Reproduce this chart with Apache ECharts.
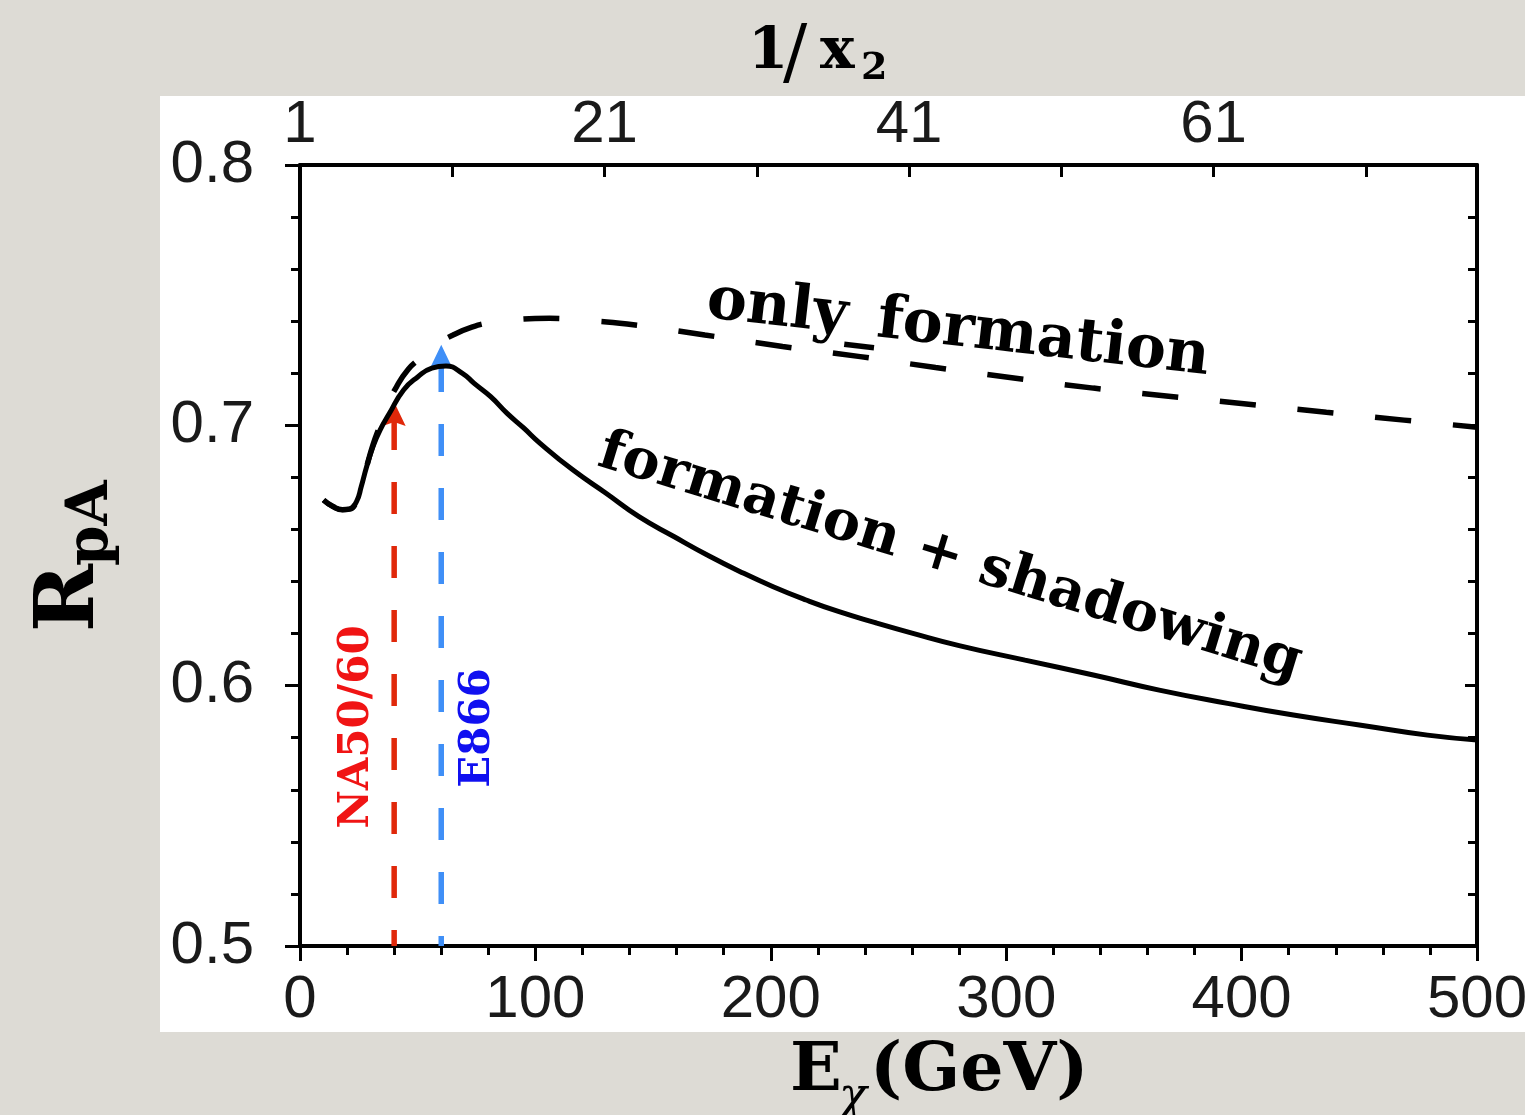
<!DOCTYPE html>
<html>
<head>
<meta charset="utf-8">
<script src="https://cdn.jsdelivr.net/npm/echarts@6/dist/echarts.min.js"></script>
<style>
  html, body { margin: 0; padding: 0; background: #dddbd5; }
  #chart { width: 1525px; height: 1115px; }
</style>
</head>
<body>
<div id="chart"></div>
<script>
// Nuclear modification factor R_pA versus energy E_chi (GeV)

// formation + shadowing (solid curve)
const energyShadowing = [10, 14, 18, 21, 24, 26, 28.3, 31, 34, 38, 44, 50, 56, 62, 69, 74, 81, 88, 95, 102,
  116, 130, 144, 159, 173, 187, 201, 215, 229, 244, 260, 280, 308, 337, 365, 394, 422, 450, 479, 500];
const rpaShadowing = [0.6713, 0.6688, 0.6676, 0.6678, 0.6707, 0.6764, 0.6841, 0.6918, 0.6982, 0.7046, 0.7136,
  0.7186, 0.7220, 0.7228, 0.7200, 0.7161, 0.7110, 0.7046, 0.6990, 0.6931, 0.6828, 0.6739, 0.6649, 0.6572,
  0.6502, 0.6438, 0.6380, 0.6329, 0.6284, 0.6243, 0.6202, 0.6154, 0.6098, 0.6041, 0.5983, 0.5932, 0.5887,
  0.5849, 0.5810, 0.5791];

// only formation (dashed curve)
const energyFormation = [10, 14, 18, 21, 24, 26, 28.3, 31, 34, 37, 41, 46, 51, 58, 65, 73, 81, 92, 106, 120,
  139, 172, 205, 238, 270, 304, 337, 370, 403, 436, 469, 500];
const rpaFormation = [0.6713, 0.6688, 0.6676, 0.6678, 0.6707, 0.6764, 0.6841, 0.6925, 0.7000, 0.7075, 0.7148,
  0.7215, 0.7257, 0.7310, 0.7347, 0.7377, 0.7395, 0.7407, 0.7411, 0.7404, 0.7389, 0.7347, 0.7303, 0.7264,
  0.7222, 0.7181, 0.7143, 0.7111, 0.7081, 0.7050, 0.7020, 0.6993];

// experiments: energy and arrow tip
const experiments = ['NA50/60', 'E866'];
const experimentEnergy = [40, 60];
const experimentTip = [0.709, 0.731];
const experimentLineColor = ['#e0280a', '#3f8ff7'];
const experimentTextColor = ['#f01414', '#1010f0'];
const experimentDashOffset = [16, 22];

// axis ticks
const energyTicks = [0, 100, 200, 300, 400, 500];
const rpaTicks = [0.5, 0.6, 0.7, 0.8];
const inverseX2Ticks = [1, 21, 41, 61];
const inverseX2Max = 78.3;

const tickFont = { fontSize: 60, color: '#1a1a1a', fontFamily: '"Liberation Sans", Arial, sans-serif' };
const black = '#000';
const axisLineStyle = { color: black, width: 4 };
const tickLine = { color: black, width: 3 };

// arrow head with its tip at the top of the symbol box
const arrowHead = 'path://M0,0 L11.5,24 L0,20 L-11.5,24 Z';
const arrowSize = [23, 24];

function pairs(xs, ys) { return xs.map((x, i) => [x, ys[i]]); }

const chart = echarts.init(document.getElementById('chart'), null, { renderer: 'canvas' });

const deg = Math.PI / 180;
const serifBold = '"DejaVu Serif", serif';

const experimentSeries = experiments.map((name, i) => ({
  name: name,
  type: 'line',
  z: 1,
  data: [[experimentEnergy[i], rpaTicks[0]], [experimentEnergy[i], experimentTip[i]]],
  symbol: (v, p) => (p.dataIndex === 1 ? arrowHead : 'none'),
  symbolSize: arrowSize,
  symbolOffset: [0, arrowSize[1] / 2],
  showSymbol: true,
  itemStyle: { color: experimentLineColor[i] },
  lineStyle: { color: experimentLineColor[i], width: 5.5, type: [32, 32], dashOffset: experimentDashOffset[i] },
  silent: true,
  animation: false
}));

const option = {
  backgroundColor: '#dddbd5',
  animation: false,
  grid: { left: 300, right: 48, top: 165, bottom: 169, containLabel: false, outerBoundsMode: 'none' },
  xAxis: [
    {
      type: 'value', position: 'bottom',
      min: energyTicks[0], max: energyTicks[energyTicks.length - 1],
      interval: energyTicks[1] - energyTicks[0],
      axisLine: { onZero: false, lineStyle: axisLineStyle },
      axisTick: { length: 15, lineStyle: tickLine },
      minorTick: { show: true, splitNumber: 5, length: 9, lineStyle: tickLine },
      splitLine: { show: false },
      axisLabel: Object.assign({ margin: 24 }, tickFont)
    },
    {
      type: 'value', position: 'top',
      min: inverseX2Ticks[0], max: inverseX2Max,
      interval: (inverseX2Ticks[1] - inverseX2Ticks[0]) / 2,
      axisLine: { onZero: false, lineStyle: axisLineStyle },
      axisTick: { inside: true, length: 12, lineStyle: tickLine },
      splitLine: { show: false },
      axisLabel: Object.assign({
        margin: 10,
        showMaxLabel: false,
        formatter: v => (inverseX2Ticks.indexOf(Math.round(v * 1000) / 1000) >= 0 ? String(v) : '')
      }, tickFont)
    }
  ],
  yAxis: [
    {
      type: 'value', position: 'left',
      min: rpaTicks[0], max: rpaTicks[rpaTicks.length - 1],
      interval: 0.1,
      axisLine: { onZero: false, lineStyle: axisLineStyle },
      axisTick: { length: 15, lineStyle: tickLine },
      minorTick: { show: true, splitNumber: 5, length: 9, lineStyle: tickLine },
      splitLine: { show: false },
      axisLabel: Object.assign({ margin: 46, formatter: v => v.toFixed(1) }, tickFont)
    },
    {
      type: 'value', position: 'right',
      min: rpaTicks[0], max: rpaTicks[rpaTicks.length - 1],
      interval: 0.1,
      axisLine: { onZero: false, lineStyle: axisLineStyle },
      axisTick: { inside: true, length: 12, lineStyle: tickLine },
      minorTick: { show: true, splitNumber: 5, length: 9, lineStyle: tickLine },
      splitLine: { show: false },
      axisLabel: { show: false }
    }
  ],
  series: experimentSeries.concat([
    {
      name: 'only formation',
      type: 'line', z: 3,
      data: pairs(energyFormation, rpaFormation),
      showSymbol: false, symbol: 'none',
      smooth: 0.5,
      lineStyle: { color: black, width: 5.5, type: [36, 42], dashOffset: 0 },
      silent: true
    },
    {
      name: 'formation + shadowing',
      type: 'line', z: 4,
      data: pairs(energyShadowing, rpaShadowing),
      showSymbol: false, symbol: 'none',
      smooth: 0.5,
      lineStyle: { color: black, width: 5 },
      silent: true
    }
  ]),
  graphic: [
    { type: 'rect', z: -100, silent: true, shape: { x: 160, y: 96, width: 1365, height: 936 }, style: { fill: '#ffffff' } },
    // curve labels
    { type: 'text', z: 10, x: 958, y: 330, rotation: -6.5 * deg,
      style: { text: 'only_formation', font: 'bold 60px ' + serifBold, fill: black, textAlign: 'center', textVerticalAlign: 'middle' } },
    { type: 'text', z: 10, x: 950, y: 558, rotation: -17 * deg,
      style: { text: 'formation + shadowing', font: 'bold 56px ' + serifBold, fill: black, textAlign: 'center', textVerticalAlign: 'middle' } },
    // experiment labels
    { type: 'text', z: 10, x: 357, y: 727, rotation: 90 * deg,
      style: { text: experiments[0], font: 'bold 42px ' + serifBold, fill: experimentTextColor[0], textAlign: 'center', textVerticalAlign: 'middle' } },
    { type: 'text', z: 10, x: 478, y: 728, rotation: 90 * deg,
      style: { text: experiments[1], font: 'bold 42px ' + serifBold, fill: experimentTextColor[1], textAlign: 'center', textVerticalAlign: 'middle' } },
    // top axis title: 1/x_2
    { type: 'group', z: 10, x: 748, y: 53, children: [
      { type: 'text', x: 0, y: 0, style: { text: '1', font: 'bold 58px ' + serifBold, fill: black, textAlign: 'left', textVerticalAlign: 'middle' } },
      { type: 'text', x: 35, y: 4, style: { text: '/', font: '72px ' + serifBold, fill: black, textAlign: 'left', textVerticalAlign: 'middle' } },
      { type: 'text', x: 72, y: 0, style: { text: 'x', font: 'bold 58px ' + serifBold, fill: black, textAlign: 'left', textVerticalAlign: 'middle' } },
      { type: 'text', x: 113, y: 16, style: { text: '2', font: 'bold 38px ' + serifBold, fill: black, textAlign: 'left', textVerticalAlign: 'middle' } }
    ] },
    // left axis title: R_pA
    { type: 'group', z: 10, x: 72, y: 632, rotation: 90 * deg, children: [
      { type: 'text', x: 0, y: 0, style: { text: 'R', font: 'bold 82px ' + serifBold, fill: black, textAlign: 'left', textVerticalAlign: 'middle' } },
      { type: 'text', x: 66, y: 20, style: { text: 'pA', font: 'bold 58px ' + serifBold, fill: black, textAlign: 'left', textVerticalAlign: 'middle' } }
    ] },
    // bottom axis title: E_chi (GeV)
    { type: 'group', z: 10, x: 790, y: 1072, children: [
      { type: 'text', x: 0, y: 0, style: { text: 'E', font: 'bold 68px ' + serifBold, fill: black, textAlign: 'left', textVerticalAlign: 'middle' } },
      { type: 'text', x: 49, y: 26, style: { text: 'χ', font: 'italic 46px ' + serifBold, fill: black, textAlign: 'left', textVerticalAlign: 'middle' } },
      { type: 'text', x: 80, y: 0, style: { text: '(GeV)', font: 'bold 68px ' + serifBold, fill: black, textAlign: 'left', textVerticalAlign: 'middle' } }
    ] }
  ]
};

chart.setOption(option);
</script>
</body>
</html>
